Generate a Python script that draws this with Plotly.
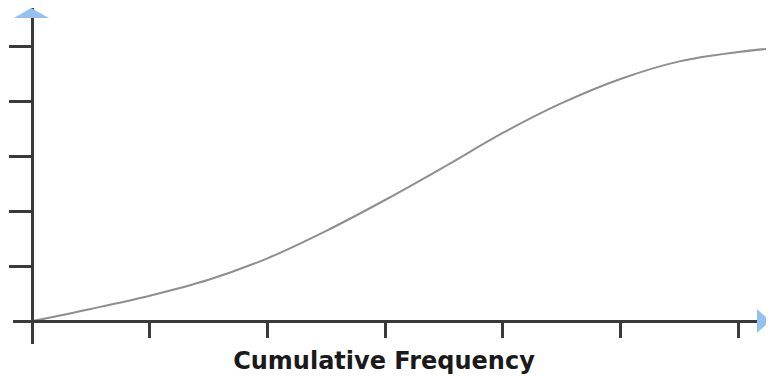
import plotly.graph_objects as go

# Data (x in tick units, y in tick units)
x_vals = [0, 0.5, 1, 1.5, 2, 2.5, 3, 3.5, 4, 4.5, 5, 5.5, 6, 6.3]
y_vals = [0, 0.22, 0.46, 0.75, 1.14, 1.64, 2.20, 2.80, 3.42, 3.96, 4.40, 4.72, 4.89, 4.96]
x_ticks = [0, 1, 2, 3, 4, 5, 6]
y_ticks = [1, 2, 3, 4, 5]
title_text = "Cumulative Frequency"

# the page body adds an 8px offset, so lay out in window pixels minus 8
OFF = 8
W, H = 774 - OFF, 376 - OFF
L, T = 13 - OFF, 0
R = 0
B = 376 - 344
plot_w = W - L - R
plot_h = H - T - B
plot_top_win = OFF + T          # window y of plot top
plot_bot_win = OFF + H - B      # window y of plot bottom (344)

def px(xp):
    return (xp - OFF - L) / plot_w

def py(yp):
    return (plot_bot_win - yp) / plot_h

fig = go.Figure()
fig.add_trace(go.Scatter(
    x=x_vals, y=y_vals, mode="lines",
    line=dict(color="#8e8e8e", width=2, shape="spline", smoothing=1.0),
    hoverinfo="skip", showlegend=False,
))

axis_color = "#3a3a3a"
fig.update_layout(
    width=W, height=H, autosize=False,
    margin=dict(l=L, r=R, t=T, b=B, pad=0),
    paper_bgcolor="white", plot_bgcolor="white",
    showlegend=False,
    xaxis=dict(
        range=[-(32 - 13) / 117.7, (774 - 32) / 117.7],
        domain=[0, 1],
        anchor="free", position=py(321),
        showline=True, linecolor=axis_color, linewidth=2.5,
        tickmode="array", tickvals=x_ticks, ticks="outside",
        ticklen=15, tickwidth=2.5, tickcolor=axis_color,
        showticklabels=False, showgrid=False, zeroline=False,
    ),
    yaxis=dict(
        range=[-(plot_bot_win - 321) / 55, (321 - plot_top_win) / 55],
        domain=[0, 1],
        anchor="free", position=px(32),
        showline=True, linecolor=axis_color, linewidth=2.5,
        tickmode="array", tickvals=y_ticks, ticks="outside",
        ticklen=22, tickwidth=2.5, tickcolor=axis_color,
        showticklabels=False, showgrid=False, zeroline=False,
    ),
    title=dict(
        text="<b>" + title_text + "</b>",
        xref="container", yref="container",
        x=(384 - OFF) / W, y=1 - (361 - OFF) / H,
        xanchor="center", yanchor="middle",
        font=dict(family="DejaVu Sans", size=24, color="#1a1a1a"),
    ),
)

arrow_color = "#94c2f0"
# y-axis arrowhead
fig.add_shape(
    type="path", xref="paper", yref="paper", layer="above",
    path=f"M {px(14)} {py(18)} L {px(31)} {py(8)} L {px(49)} {py(18)} Z",
    fillcolor=arrow_color, line=dict(color=arrow_color, width=0),
)
# x-axis arrowhead
fig.add_shape(
    type="path", xref="paper", yref="paper", layer="above",
    path=f"M {px(757)} {py(309)} L {px(770)} {py(321)} L {px(757)} {py(333)} Z",
    fillcolor=arrow_color, line=dict(color=arrow_color, width=0),
)

fig.write_html("out.html")
